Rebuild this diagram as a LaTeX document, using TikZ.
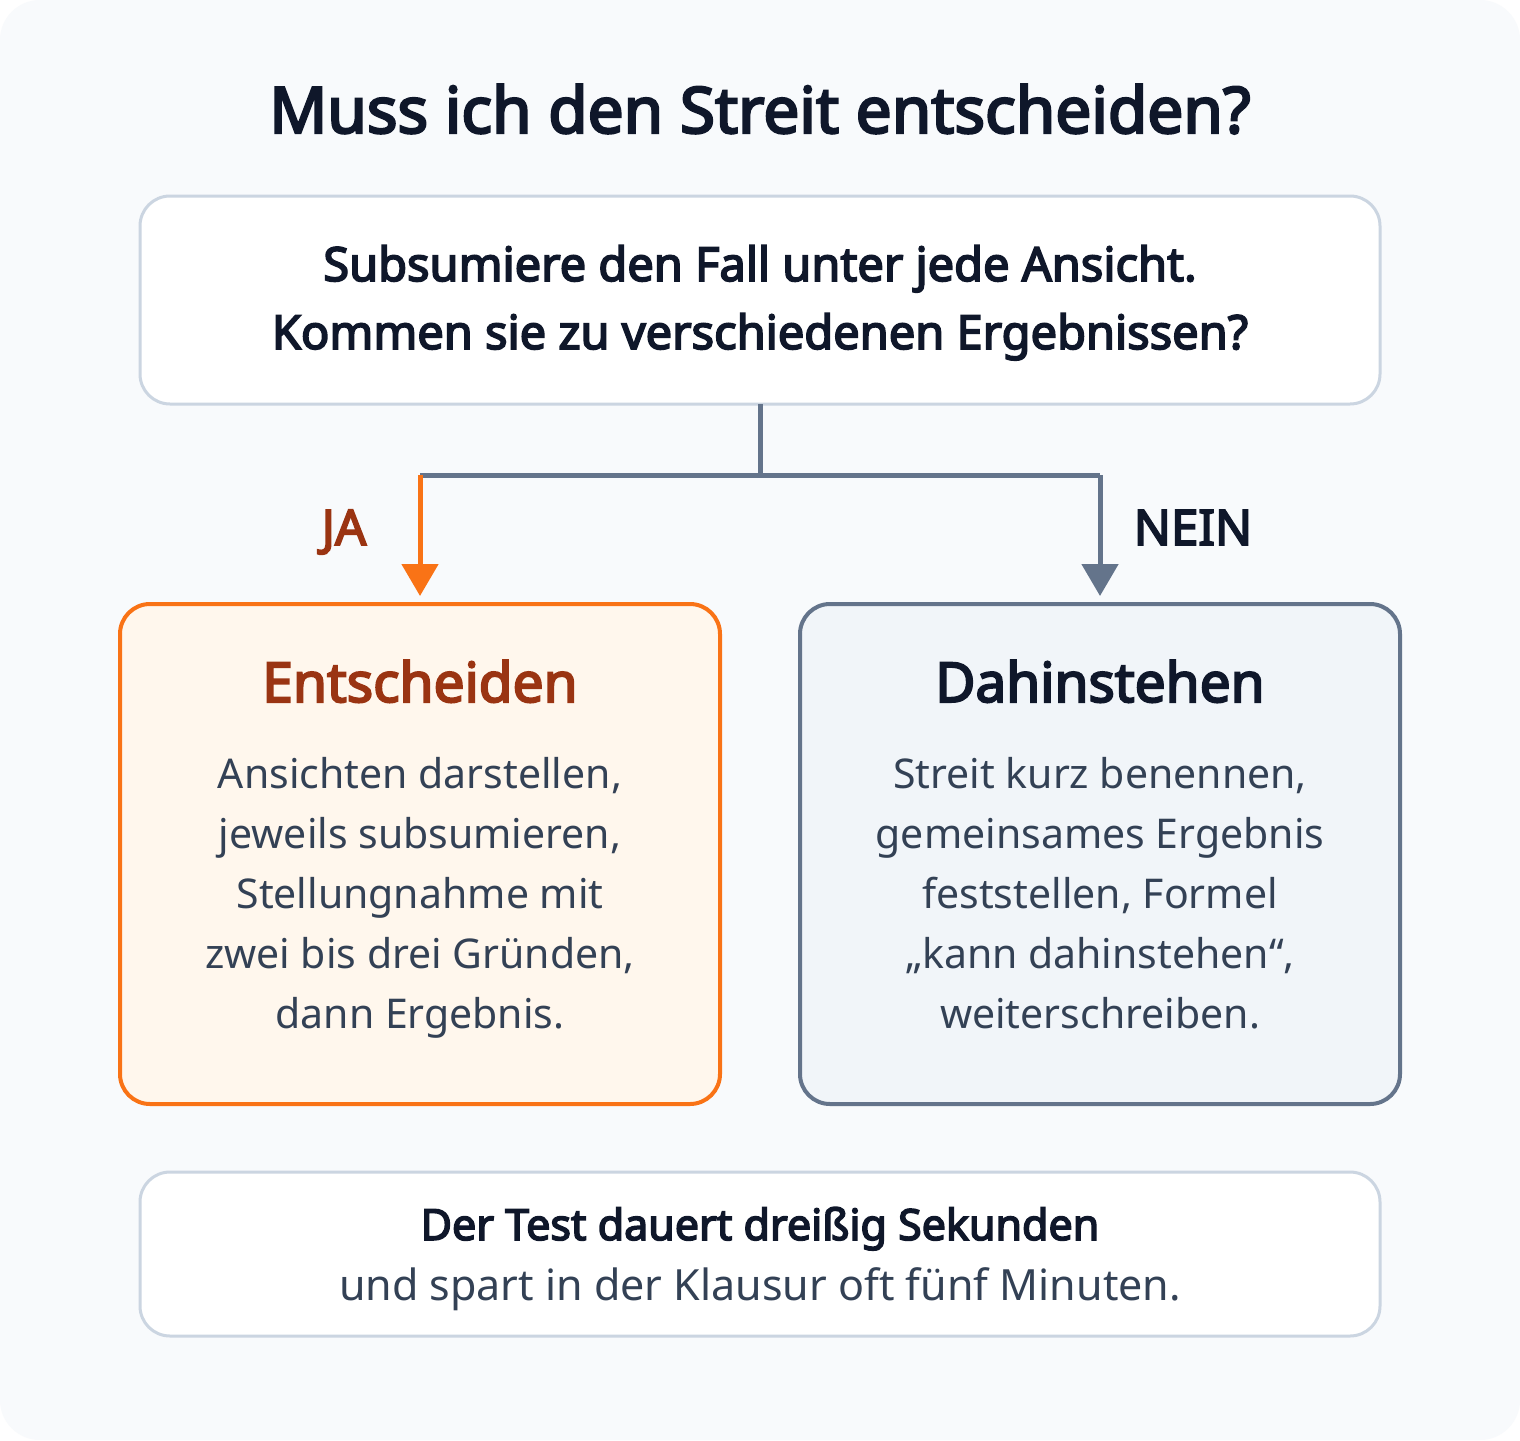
\documentclass[tikz,border=0pt]{standalone}
\usepackage{fontspec}
\setmainfont{Noto Sans}[AutoFakeBold=3.6]
\usetikzlibrary{arrows.meta}
\definecolor{bgc}{HTML}{F8FAFC}
\definecolor{ink}{HTML}{0F172A}
\definecolor{bodyc}{HTML}{334155}
\definecolor{orng}{HTML}{F97316}
\definecolor{dorng}{HTML}{9A3412}
\definecolor{slate}{HTML}{64748B}
\definecolor{lborder}{HTML}{CBD5E1}
\definecolor{lfill}{HTML}{FFF7ED}
\definecolor{rfill}{HTML}{F1F5F9}
\begin{document}
\begin{tikzpicture}[x=0.5pt,y=-0.5pt,
  txt/.style={inner sep=0pt, anchor=base},
  boxw/.style={draw=lborder, line width=1.5pt, fill=white, rounded corners=15pt},
  conn/.style={line width=2.5pt},
  tip/.style={-{Triangle[width=18pt,length=16pt]}},
  titlef/.style={font=\fontsize{32}{36}\selectfont\bfseries, text=ink},
  qf/.style={font=\fontsize{23.5}{26}\selectfont\bfseries, text=ink},
  lblf/.style={font=\fontsize{24.5}{28}\selectfont\bfseries},
  headf/.style={font=\fontsize{27.5}{32}\selectfont\bfseries},
  bodyf/.style={font=\fontsize{20.5}{24}\selectfont, text=bodyc},
]
\useasboundingbox (0,0) rectangle (1520,1440);
\fill[white] (0,0) rectangle (1520,1440);
\fill[bgc, rounded corners=20pt] (0,0) rectangle (1520,1440);

\node[txt, titlef] (title) at (760,133) {Muss ich den Streit entscheiden?};

% top box
\draw[boxw] (140,196) rectangle (1380,404);
\node[txt, qf] (q1) at (760,281) {Subsumiere den Fall unter jede Ansicht.};
\node[txt, qf] (q2) at (760,349) {Kommen sie zu verschiedenen Ergebnissen?};

% left box
\draw[draw=orng, fill=lfill, line width=2pt, rounded corners=15pt] (120,604) rectangle (720,1104);
\node[txt, headf, text=dorng] (lh) at (420,702) {Entscheiden};
\node[txt, bodyf] (l1) at (420,788) {Ansichten darstellen,};
\node[txt, bodyf] (l2) at (420,848) {jeweils subsumieren,};
\node[txt, bodyf] (l3) at (420,908) {Stellungnahme mit};
\node[txt, bodyf] (l4) at (420,968) {zwei bis drei Gründen,};
\node[txt, bodyf] (l5) at (420,1028) {dann Ergebnis.};

% right box
\draw[draw=slate, fill=rfill, line width=2pt, rounded corners=15pt] (800,604) rectangle (1400,1104);
\node[txt, headf, text=ink] (rh) at (1100,702) {Dahinstehen};
\node[txt, bodyf] (r1) at (1100,788) {Streit kurz benennen,};
\node[txt, bodyf] (r2) at (1100,848) {gemeinsames Ergebnis};
\node[txt, bodyf] (r3) at (1100,908) {feststellen, Formel};
\node[txt, bodyf] (r4) at (1100,968) {„kann dahinstehen“,};
\node[txt, bodyf] (r5) at (1100,1028) {weiterschreiben.};

% connectors
\coordinate (qbot) at (760,404);
\coordinate (split) at (760,475);
\coordinate (lcorner) at (420,475);
\coordinate (rcorner) at (1100,475);
\coordinate (ltip) at (420,596);
\coordinate (rtip) at (1100,596);
\draw[conn, slate] (qbot) -- (split);
\draw[conn, slate] (lcorner) -- (rcorner);
\draw[conn, slate, tip] (rcorner) -- (rtip);
\draw[conn, orng, tip] (lcorner) -- (ltip);
\node[txt, lblf, text=dorng] (ja) at (344,545) {JA};
\node[txt, lblf, text=ink] (nein) at (1193,545) {NEIN};

% bottom box
\draw[boxw] (140,1172) rectangle (1380,1336);
\node[txt, font=\fontsize{21.5}{24}\selectfont\bfseries, text=ink] (b1) at (760,1240) {Der Test dauert dreißig Sekunden};
\node[txt, font=\fontsize{21.5}{24}\selectfont, text=bodyc] (b2) at (760,1300) {und spart in der Klausur oft fünf Minuten.};
\end{tikzpicture}
\end{document}
